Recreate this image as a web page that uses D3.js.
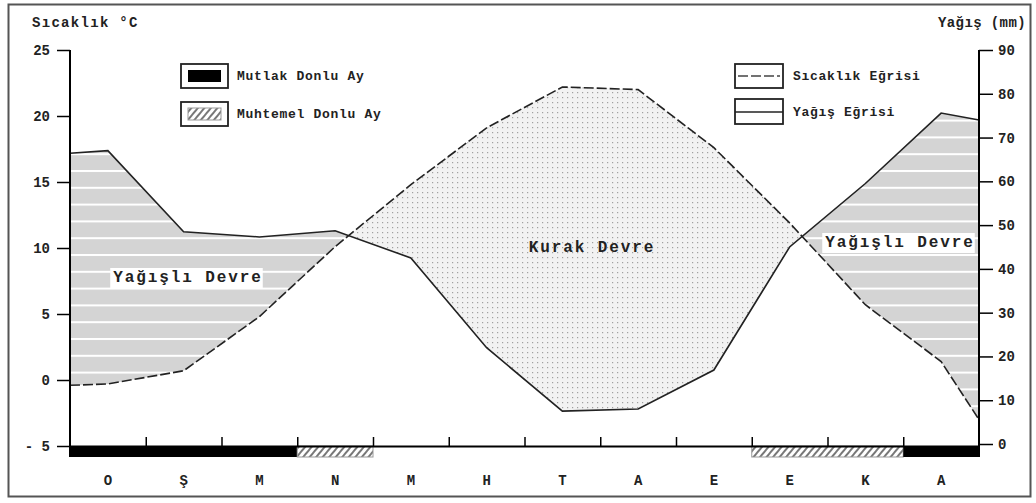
<!DOCTYPE html>
<html>
<head>
<meta charset="utf-8">
<script src="https://cdn.jsdelivr.net/npm/d3@7"></script>
<style>
  body { margin: 0; background: #fff; }
  text { font-family: "Liberation Mono", "DejaVu Sans Mono", monospace; font-weight: bold; fill: #222; }
</style>
</head>
<body>
<script>
'use strict';

// months (Ocak .. Aralik), only the initials are printed
const months = ['O', 'Ş', 'M', 'N', 'M', 'H', 'T', 'A', 'E', 'E', 'K', 'A'];

// monthly mean temperature (°C) and precipitation (mm)
const temperature = [-0.3, 0.7, 4.8, 10.1, 14.8, 19.1, 22.2, 22.0, 17.6, 11.9, 5.7, 1.4];
const precipitation = [67.0, 48.5, 47.3, 48.7, 42.5, 22.0, 7.5, 8.0, 16.9, 45.0, 59.5, 75.6];

// values where the curves meet the two axes
const temperatureEnds = [-0.4, -3.0];
const precipitationEnds = [66.4, 74.0];

// frost months: 'mutlak' = certain, 'muhtemel' = possible
const frost = ['mutlak', 'mutlak', 'mutlak', 'muhtemel', '', '', '', '', '', 'muhtemel', 'muhtemel', 'mutlak'];

const tempTicks = [-5, 0, 5, 10, 15, 20, 25];
const precipTicks = [0, 10, 20, 30, 40, 50, 60, 70, 80, 90];

(function() {

  let svg = "";

  window.onload = function() {
    svg = d3.select('body')
      .append('svg')
      .attr('width', 1036)
      .attr('height', 503);

    makePatterns();
    makeChart();
  }

  // fills: striped (wet), dotted (dry), hatched (possible frost)
  function makePatterns() {
    let defs = svg.append('defs');

    let stripes = defs.append('pattern')
      .attr('id', 'stripes')
      .attr('patternUnits', 'userSpaceOnUse')
      .attr('width', 10)
      .attr('height', 16.8)
      .attr('y', 2);
    stripes.append('rect').attr('width', 10).attr('height', 16.8).attr('fill', '#d4d4d4');
    stripes.append('rect').attr('width', 10).attr('height', 2).attr('fill', '#fff');

    let dots = defs.append('pattern')
      .attr('id', 'dots')
      .attr('patternUnits', 'userSpaceOnUse')
      .attr('width', 5)
      .attr('height', 5);
    dots.append('rect').attr('width', 5).attr('height', 5).attr('fill', '#f2f2f2');
    dots.append('rect').attr('x', 2).attr('y', 2).attr('width', 1.2).attr('height', 1.2).attr('fill', '#a0a0a0');

    let hatch = defs.append('pattern')
      .attr('id', 'hatch')
      .attr('patternUnits', 'userSpaceOnUse')
      .attr('width', 5)
      .attr('height', 10)
      .attr('patternTransform', 'rotate(40)');
    hatch.append('rect').attr('width', 5).attr('height', 10).attr('fill', '#fff');
    hatch.append('line')
      .attr('x1', 1).attr('x2', 1).attr('y1', 0).attr('y2', 10)
      .attr('stroke', '#555').attr('stroke-width', 1.6);
  }

  // group consecutive months with the same frost type into one bar
  function frostRuns() {
    let runs = [];
    frost.forEach((f, i) => {
      let last = runs[runs.length - 1];
      if (last && last.f === f) {
        last.end = i + 1;
      } else {
        runs.push({f: f, start: i, end: i + 1});
      }
    });
    return runs.filter(r => r.f !== '');
  }

  function makeChart() {
    // outer frame
    svg.append('rect')
      .attr('x', 8.5).attr('y', 4.5)
      .attr('width', 1022).attr('height', 492)
      .attr('fill', 'none')
      .attr('stroke', '#555')
      .attr('stroke-width', 2);

    let left = 70, right = 979;

    let xBand = d3.scaleBand()
      .domain(d3.range(months.length))
      .range([left, right]);

    let xEdge = d3.scaleLinear()
      .domain([0, months.length])
      .range([left, right]);

    let tempScale = d3.scaleLinear()
      .domain([-5, 25])
      .range([446, 50]);

    let precipScale = d3.scaleLinear()
      .domain([0, 90])
      .range([444, 50]);

    // points of both curves, including the ends on the axes
    let points = [{x: left, t: temperatureEnds[0], p: precipitationEnds[0]}];
    months.forEach((m, i) => {
      points.push({x: xBand(i) + xBand.bandwidth() / 2, t: temperature[i], p: precipitation[i]});
    });
    points.push({x: right, t: temperatureEnds[1], p: precipitationEnds[1]});

    let tY = d => tempScale(d.t);
    let pY = d => precipScale(d.p);

    let defs = svg.select('defs');

    // clip: below the precipitation curve
    defs.append('clipPath').attr('id', 'underPrecip')
      .append('path')
      .attr('d', d3.area().x(d => d.x).y0(pY).y1(500)(points));

    // clip: below the temperature curve
    defs.append('clipPath').attr('id', 'underTemp')
      .append('path')
      .attr('d', d3.area().x(d => d.x).y0(tY).y1(500)(points));

    // wet period: precipitation above temperature
    svg.append('path')
      .datum(points)
      .attr('d', d3.area().x(d => d.x).y0(0).y1(tY))
      .attr('clip-path', 'url(#underPrecip)')
      .attr('fill', 'url(#stripes)');

    // dry period: temperature above precipitation
    svg.append('path')
      .datum(points)
      .attr('d', d3.area().x(d => d.x).y0(0).y1(pY))
      .attr('clip-path', 'url(#underTemp)')
      .attr('fill', 'url(#dots)');

    // precipitation curve
    svg.append('path')
      .datum(points)
      .attr('d', d3.line().x(d => d.x).y(pY))
      .attr('fill', 'none')
      .attr('stroke', '#222')
      .attr('stroke-width', 1.6);

    // temperature curve
    svg.append('path')
      .datum(points)
      .attr('d', d3.line().x(d => d.x).y(tY))
      .attr('fill', 'none')
      .attr('stroke', '#222')
      .attr('stroke-width', 1.6)
      .attr('stroke-dasharray', '10,3');

    // frost bars under the month axis
    svg.selectAll('.frost')
      .data(frostRuns())
      .enter()
      .append('rect')
        .attr('class', 'frost')
        .attr('x', d => xEdge(d.start))
        .attr('y', 446)
        .attr('width', d => xEdge(d.end) - xEdge(d.start))
        .attr('height', 11)
        .attr('fill', d => d.f === 'mutlak' ? '#000' : 'url(#hatch)')
        .attr('stroke', d => d.f === 'mutlak' ? 'none' : '#999')
        .attr('stroke-width', 1);

    // month axis: ticks on the month borders
    let monthAxis = svg.append('g')
      .attr('transform', 'translate(0, 446)')
      .call(d3.axisTop(xEdge).tickValues(d3.range(1, months.length)).tickSize(9).tickSizeOuter(0).tickFormat(''));
    monthAxis.select('.domain').attr('stroke', '#000').attr('stroke-width', 2);
    monthAxis.selectAll('.tick line').attr('stroke', '#000').attr('stroke-width', 1.5);

    // month initials
    svg.selectAll('.month')
      .data(months)
      .enter()
      .append('text')
        .attr('class', 'month')
        .attr('x', (d, i) => xBand(i) + xBand.bandwidth() / 2)
        .attr('y', 485)
        .attr('text-anchor', 'middle')
        .style('font-size', '14px')
        .text(d => d);

    // temperature axis
    let tAxis = svg.append('g')
      .attr('transform', 'translate(' + left + ', 0)')
      .call(d3.axisLeft(tempScale)
        .tickValues(tempTicks)
        .tickSize(13)
        .tickSizeOuter(0)
        .tickPadding(7)
        .tickFormat(d => d < 0 ? '- ' + Math.abs(d) : d));
    styleAxis(tAxis);
    tAxis.select('.domain').attr('d', 'M0,50V457');

    // precipitation axis
    let pAxis = svg.append('g')
      .attr('transform', 'translate(' + right + ', 0)')
      .call(d3.axisRight(precipScale)
        .tickValues(precipTicks)
        .tickSize(14)
        .tickSizeOuter(0)
        .tickPadding(5));
    styleAxis(pAxis);
    pAxis.select('.domain').attr('d', 'M0,50V457');

    chartLabels();
    makeLegend();

    // period labels
    periodLabel('Yağışlı  Devre', 188, 282, true);
    periodLabel('Yağışlı  Devre', 900, 247, true);
    periodLabel('Kurak  Devre', 592, 252, false);
  }

  function styleAxis(g) {
    g.select('.domain').attr('stroke', '#000').attr('stroke-width', 2);
    g.selectAll('.tick line').attr('stroke', '#000').attr('stroke-width', 1.5);
    g.selectAll('.tick text')
      .style('font-family', '"Liberation Mono", monospace')
      .style('font-weight', 'bold')
      .style('font-size', '14px')
      .attr('fill', '#222');
  }

  // label on the shaded area, with an optional white box behind it
  function periodLabel(label, x, y, boxed) {
    let g = svg.append('g');
    let t = g.append('text')
      .attr('x', x)
      .attr('y', y)
      .attr('text-anchor', 'middle')
      .style('font-size', '16px')
      .style('letter-spacing', '1.9px')
      .text(label);
    if (boxed) {
      let b = t.node().getBBox();
      g.insert('rect', 'text')
        .attr('x', b.x - 3)
        .attr('y', b.y - 1)
        .attr('width', b.width + 3)
        .attr('height', b.height + 2)
        .attr('fill', '#fff');
    }
  }

  function chartLabels() {
    svg.append('text')
      .attr('x', 32)
      .attr('y', 27)
      .style('font-size', '14px')
      .style('letter-spacing', '1.3px')
      .text('Sıcaklık °C');

    svg.append('text')
      .attr('x', 1026)
      .attr('y', 27)
      .attr('text-anchor', 'end')
      .style('font-size', '14px')
      .style('letter-spacing', '0.4px')
      .text('Yağış  (mm)');
  }

  function makeLegend() {
    // frost legend (left)
    legendBox(181, 64, 47, 24);
    svg.append('rect')
      .attr('x', 188).attr('y', 70).attr('width', 33).attr('height', 12)
      .attr('fill', '#000');
    legendText('Mutlak Donlu Ay', 237, 80);

    legendBox(181, 102, 47, 24);
    svg.append('rect')
      .attr('x', 188).attr('y', 108).attr('width', 33).attr('height', 12)
      .attr('fill', 'url(#hatch)')
      .attr('stroke', '#999');
    legendText('Muhtemel Donlu Ay', 237, 118);

    // curve legend (right)
    legendBox(735, 64, 48, 24);
    svg.append('line')
      .attr('x1', 738).attr('x2', 780).attr('y1', 76).attr('y2', 76)
      .attr('stroke', '#444').attr('stroke-width', 1.6)
      .attr('stroke-dasharray', '10,3');
    legendText('Sıcaklık Eğrisi', 793, 80);

    legendBox(735, 99, 48, 25);
    svg.append('line')
      .attr('x1', 735).attr('x2', 783).attr('y1', 112).attr('y2', 112)
      .attr('stroke', '#222').attr('stroke-width', 1.6);
    legendText('Yağış Eğrisi', 793, 116);
  }

  function legendBox(x, y, w, h) {
    svg.append('rect')
      .attr('x', x).attr('y', y).attr('width', w).attr('height', h)
      .attr('fill', '#fff')
      .attr('stroke', '#222')
      .attr('stroke-width', 1.8);
  }

  function legendText(label, x, y) {
    svg.append('text')
      .attr('x', x)
      .attr('y', y)
      .style('font-size', '13px')
      .style('letter-spacing', '0.7px')
      .text(label);
  }
})();
</script>
</body>
</html>
